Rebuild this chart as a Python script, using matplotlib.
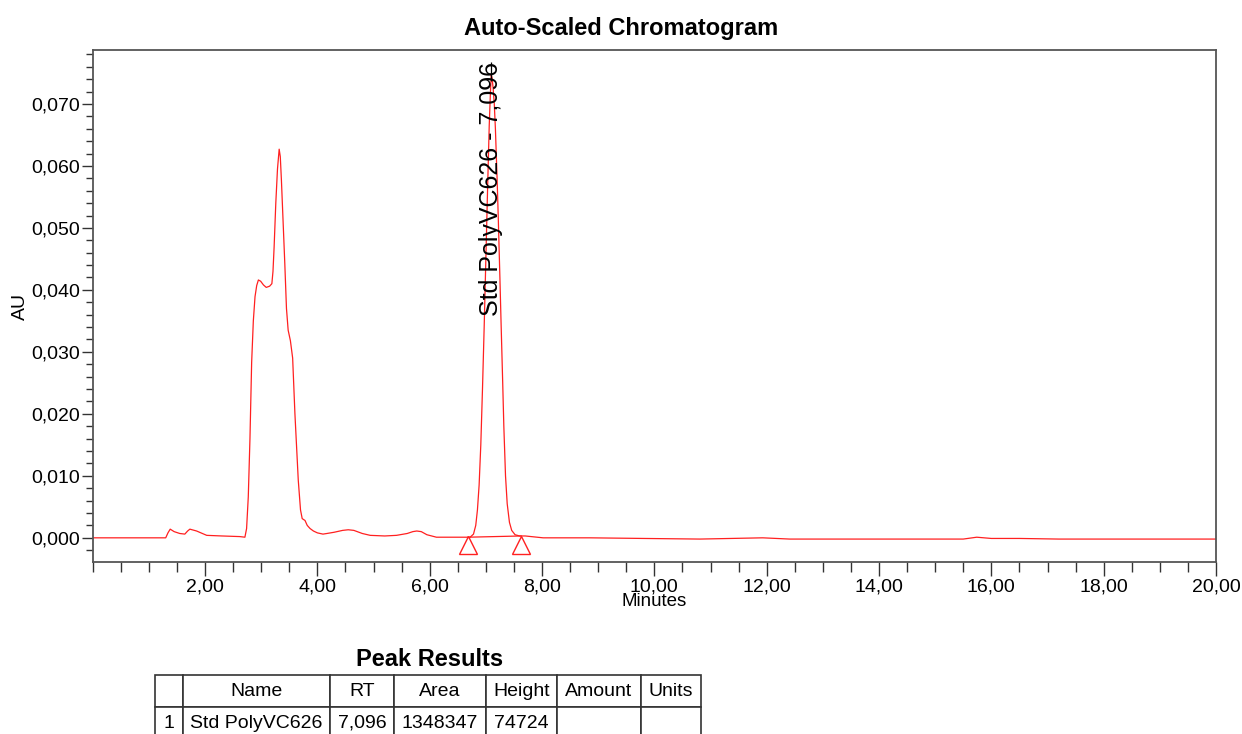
import matplotlib.pyplot as plt
from matplotlib.ticker import MultipleLocator, FixedLocator, FuncFormatter

plt.rcParams['font.family'] = ['Liberation Sans', 'DejaVu Sans']

# chromatogram trace (minutes, AU)
minutes = [0.0, 1.0, 1.30, 1.34, 1.38, 1.45, 1.55, 1.64, 1.69, 1.73, 1.85, 2.03, 2.30, 2.62,
           2.71, 2.74, 2.77, 2.80, 2.83, 2.86, 2.89, 2.92, 2.95, 2.99, 3.04, 3.09, 3.15,
           3.19, 3.21, 3.23, 3.26, 3.29, 3.32, 3.34, 3.36, 3.39, 3.42, 3.45, 3.48, 3.52,
           3.56, 3.60, 3.66, 3.70, 3.73, 3.78, 3.82, 3.87, 3.93, 4.00, 4.10, 4.17, 4.30,
           4.45, 4.55, 4.65, 4.80, 4.94, 5.20, 5.41, 5.60, 5.70, 5.77, 5.85, 5.95, 6.12,
           6.40, 6.72, 6.78, 6.82, 6.85, 6.88, 6.91, 6.94, 6.97, 7.00, 7.03, 7.06, 7.08,
           7.096, 7.11, 7.13, 7.15, 7.17, 7.20, 7.22, 7.25, 7.27, 7.30, 7.32, 7.35, 7.38,
           7.42, 7.46, 7.52, 7.60, 7.70, 8.02, 8.85, 9.80, 10.81, 11.93, 12.41, 13.50,
           15.50, 15.74, 16.00, 16.50, 17.20, 18.50, 20.0]
signal = [0.0, 0.0, 0.0, 0.0008, 0.0014, 0.0010, 0.0007, 0.0006, 0.0011, 0.0014, 0.0011, 0.0004, 0.0003, 0.0002,
          0.0001, 0.0015, 0.0066, 0.016, 0.0283, 0.0350, 0.0389, 0.0407, 0.0416, 0.0414, 0.0408, 0.0404, 0.0406,
          0.0410, 0.0430, 0.0469, 0.0540, 0.0595, 0.0627, 0.0615, 0.0577, 0.0510, 0.0443, 0.0370, 0.0335, 0.0318,
          0.0290, 0.0201, 0.0093, 0.0045, 0.0031, 0.0028, 0.0020, 0.0015, 0.0011, 0.0008, 0.0006, 0.0007, 0.0009,
          0.0012, 0.0013, 0.0012, 0.0007, 0.0004, 0.0003, 0.0004, 0.0007, 0.0010, 0.0011, 0.0010, 0.0005, 0.0001,
          0.0001, 0.0001, 0.0006, 0.0020, 0.0045, 0.0085, 0.0150, 0.0240, 0.0340, 0.0450, 0.0560, 0.0665, 0.0715,
          0.0747, 0.0742, 0.0725, 0.0700, 0.0660, 0.0580, 0.0520, 0.0420, 0.0350, 0.0250, 0.0180, 0.0100, 0.0055,
          0.0025, 0.0012, 0.0005, 0.0003, 0.0003, 0.0, 0.0, -0.0001, -0.0002, 0.0, -0.0002, -0.0002,
          -0.0002, 0.0001, -0.0001, -0.0001, -0.0002, -0.0002, -0.0002]

# integration marks for the named peak
peak_name = 'Std PolyVC626'
peak_rt = 7.096
peak_height = 0.0747
peak_start = 6.68
peak_end = 7.63
base_start = 0.0001
base_end = 0.0003

table_header = ['', 'Name', 'RT', 'Area', 'Height', 'Amount', 'Units']
table_row = ['1', 'Std PolyVC626', '7,096', '1348347', '74724', '', '']

W, H = 1242, 734
fig = plt.figure(figsize=(W / 100, H / 100), dpi=100)
ax = fig.add_axes([92.7 / W, (H - 562) / H, (1216 - 92.7) / W, 512 / H])

ax.plot(minutes, signal, color='#ff2020', lw=0.9)
ax.plot([peak_start, peak_end], [base_start, base_end], color='#ff2020', lw=0.9)
ax.plot([peak_start, peak_end], [-0.0012, -0.0012], linestyle='none', marker='^',
        markersize=13, markerfacecolor='none', markeredgecolor='#ff2020', markeredgewidth=1.0)
ax.vlines(peak_rt, peak_height - 0.001, 0.0768, color='black', lw=0.9)
ax.text(peak_rt - 0.01, 0.0767, f'{peak_name} - {peak_rt:.3f}'.replace('.', ','),
        rotation=90, ha='center', va='top', fontsize=18)

ax.set_xlim(0, 20)
ax.set_ylim(-0.0039, 0.0787)
ax.xaxis.set_major_locator(FixedLocator([2, 4, 6, 8, 10, 12, 14, 16, 18, 20]))
ax.xaxis.set_minor_locator(MultipleLocator(0.5))
ax.yaxis.set_major_locator(MultipleLocator(0.01))
ax.yaxis.set_minor_locator(MultipleLocator(0.002))
ax.xaxis.set_major_formatter(FuncFormatter(lambda v, p: f'{v:.2f}'.replace('.', ',')))
ax.yaxis.set_major_formatter(FuncFormatter(lambda v, p: f'{v:.3f}'.replace('.', ',')))
ax.tick_params(axis='x', which='major', length=10, width=1, pad=2, labelsize=14, color='#333333')
ax.tick_params(axis='x', which='minor', length=7, width=1, color='#333333')
ax.tick_params(axis='y', which='major', length=8, width=1, pad=1, labelsize=14, color='#333333')
ax.tick_params(axis='y', which='minor', length=5, width=1, color='#333333')
for s in ax.spines.values():
    s.set_color('#555555')
    s.set_linewidth(1.3)

ax.set_xlabel('Minutes', fontsize=13.5, labelpad=-2)
ax.set_ylabel('AU', fontsize=14, labelpad=2)
fig.text(621 / W, 1 - 28 / H, 'Auto-Scaled Chromatogram', ha='center', va='center',
         fontsize=17, fontweight='bold')

# peak results table
fig.text(430 / W, 1 - 659 / H, 'Peak Results', ha='center', va='center',
         fontsize=17, fontweight='bold')
tax = fig.add_axes([155 / W, (H - 739) / H, 546 / W, 64 / H])
tax.axis('off')
widths = [28, 147, 64, 92, 71, 84, 60]
tbl = tax.table(cellText=[table_header, table_row], colWidths=[w / 546 for w in widths],
                cellLoc='center', bbox=[0, 0, 1, 1])
tbl.auto_set_font_size(False)
for cell in tbl.get_celld().values():
    cell.set_fontsize(14)
    cell.set_edgecolor('#333333')
    cell.set_linewidth(1.2)

fig.savefig('out.png', dpi=100)
